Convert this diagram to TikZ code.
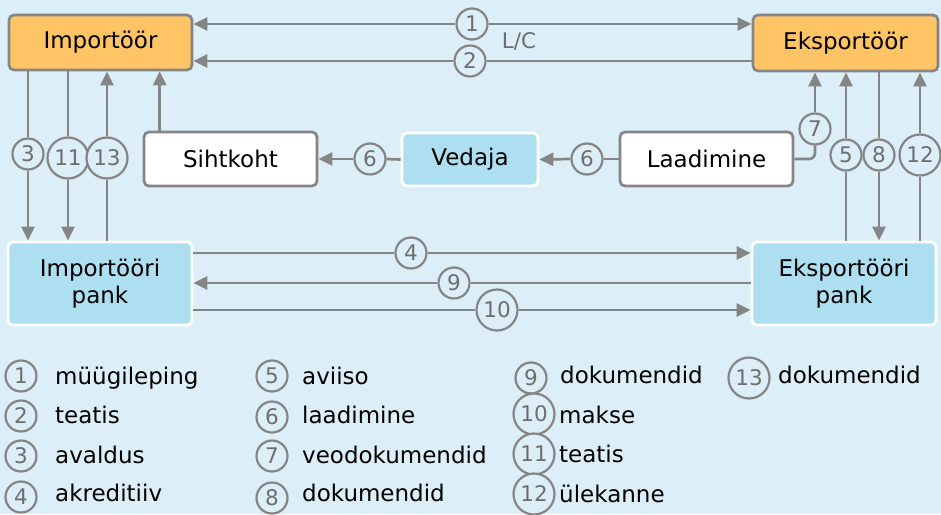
\documentclass[tikz,border=0pt]{standalone}
\usepackage{fontspec}
\setmainfont{DejaVu Sans}
\usetikzlibrary{arrows.meta}
\definecolor{bg}{HTML}{DCEFF8}
\definecolor{org}{HTML}{FFC466}
\definecolor{lb}{HTML}{ADDFF0}
\definecolor{lnc}{HTML}{858585}
\definecolor{numc}{HTML}{6E6E6E}
\begin{document}
\begin{tikzpicture}[x=1pt,y=-1pt,
  box/.style={draw=lnc, line width=2.7pt, rounded corners=5pt, inner sep=0pt, font=\fontsize{23}{27}\selectfont, text=black, align=center},
  obox/.style={box, fill=org},
  wbox/.style={box, fill=white},
  bbox/.style={box, fill=lb, draw=white},
  num/.style={circle, draw=lnc, line width=2.2pt, fill=bg, inner sep=0pt, minimum size=31pt, text=numc, font=\fontsize{21.5}{21.5}\selectfont},
  numw/.style={num, minimum size=41pt},
  conn/.style={draw=lnc, line width=2.7pt},
  arr/.style={conn, -{Triangle[length=14pt,width=13pt]}},
  lg/.style={anchor=base west, inner sep=0pt, text=black, font=\fontsize{23}{27}\selectfont}
]
\path[fill=bg] (0,0) rectangle (941,514);
\useasboundingbox (0,0) rectangle (941,514);

% boxes
\node[obox, minimum width=183pt, minimum height=55pt] (imp) at (100.5,42.5) {Importöör};
\node[obox, minimum width=185pt, minimum height=56pt] (eks) at (845.5,43) {Eksportöör};
\node[wbox, minimum width=173pt, minimum height=54pt] (sih) at (230.5,159) {Sihtkoht};
\node[bbox, minimum width=136pt, minimum height=53pt] (ved) at (470,159.5) {Vedaja};
\node[wbox, minimum width=173pt, minimum height=54pt] (lad) at (706.5,159) {Laadimine};
\node[bbox, minimum width=184pt, minimum height=83pt] (ipank) at (100,283.5) {Importööri\\pank};
\node[bbox, minimum width=184pt, minimum height=83pt] (epank) at (844,283.5) {Eksportööri\\pank};

% circles
\node[num] (c1) at (472,24) {1};
\node[num] (c2) at (470,61) {2};
\node[text=numc, font=\fontsize{21.5}{21.5}\selectfont] (lc) at (519,42) {L/C};
\node[num] (c3) at (28,154) {3};
\node[numw] (c11) at (68,158) {11};
\node[numw] (c13) at (107,158) {13};
\node[num] (c7) at (815,129) {7};
\node[num] (c5) at (846,155) {5};
\node[num] (c8) at (879,155) {8};
\node[numw] (c12) at (920,155) {12};
\node[num] (c6a) at (587,159) {6};
\node[num] (c6b) at (370,159) {6};
\node[num] (c4) at (411,253) {4};
\node[num] (c9) at (454,283) {9};
\node[numw] (c10) at (497,310) {10};

% top connectors
\draw[arr] (c1.west) -- (imp.east |- c1);
\draw[arr] (c1.east) -- (eks.west |- c1);
\draw[arr] (c2.west) -- (imp.east |- c2);
\draw[conn] (c2.east) -- (eks.west |- c2);

% left verticals
\draw[conn] (imp.south -| c3) -- (c3.north);
\draw[arr] (c3.south) -- (ipank.north -| c3);
\draw[conn] (imp.south -| c11) -- (c11.north);
\draw[arr] (c11.south) -- (ipank.north -| c11);
\draw[conn] (ipank.north -| c13) -- (c13.south);
\draw[arr] (c13.north) -- (imp.south -| c13);
\draw[arr] ([xshift=17pt]sih.north west) -- ([xshift=17pt]sih.north west |- imp.south);

% right verticals
\draw[conn, rounded corners=6pt] (lad.east) -| (c7.south);
\draw[arr] (c7.north) -- (eks.south -| c7);
\draw[conn] (epank.north -| c5) -- (c5.south);
\draw[arr] (c5.north) -- (eks.south -| c5);
\draw[conn] (eks.south -| c8) -- (c8.north);
\draw[arr] (c8.south) -- (epank.north -| c8);
\draw[conn] (epank.north -| c12) -- (c12.south);
\draw[arr] (c12.north) -- (eks.south -| c12);

% middle row
\draw[conn] (lad.west) -- (c6a.east);
\draw[arr] (c6a.west) -- (ved.east);
\draw[conn] (ved.west) -- (c6b.east);
\draw[arr] (c6b.west) -- (sih.east);

% banks
\draw[conn] (ipank.east |- c4) -- (c4.west);
\draw[arr] (c4.east) -- (epank.west |- c4);
\draw[conn] (epank.west |- c9) -- (c9.east);
\draw[arr] (c9.west) -- (ipank.east |- c9);
\draw[conn] (ipank.east |- c10) -- (c10.west);
\draw[arr] (c10.east) -- (epank.west |- c10);

% legend
\node[num] (l1) at (21,376) {1};
\node[num] (l2) at (21,416) {2};
\node[num] (l3) at (21,456) {3};
\node[num] (l4) at (21,497) {4};
\node[lg] (t1) at (55,384) {müügileping};
\node[lg] (t2) at (55,423) {teatis};
\node[lg] (t3) at (55,463) {avaldus};
\node[lg] (t4) at (55,501) {akreditiiv};

\node[num] (l5) at (272,376) {5};
\node[num] (l6) at (272,417) {6};
\node[num] (l7) at (272,456) {7};
\node[num] (l8) at (272,498) {8};
\node[lg] (t5) at (302,384) {aviiso};
\node[lg] (t6) at (302,423) {laadimine};
\node[lg] (t7) at (302,463) {veodokumendid};
\node[lg] (t8) at (302,501) {dokumendid};

\node[num] (l9) at (531,378) {9};
\node[numw] (l10) at (534,414) {10};
\node[numw] (l11) at (534,454) {11};
\node[numw] (l12) at (534,494) {12};
\node[lg] (t9) at (560,383) {dokumendid};
\node[lg] (t10) at (559,423) {makse};
\node[lg] (t11) at (559,462) {teatis};
\node[lg] (t12) at (559,502) {ülekanne};

\node[numw] (l13) at (749,378) {13};
\node[lg] (t13) at (778,383) {dokumendid};
\end{tikzpicture}
\end{document}
